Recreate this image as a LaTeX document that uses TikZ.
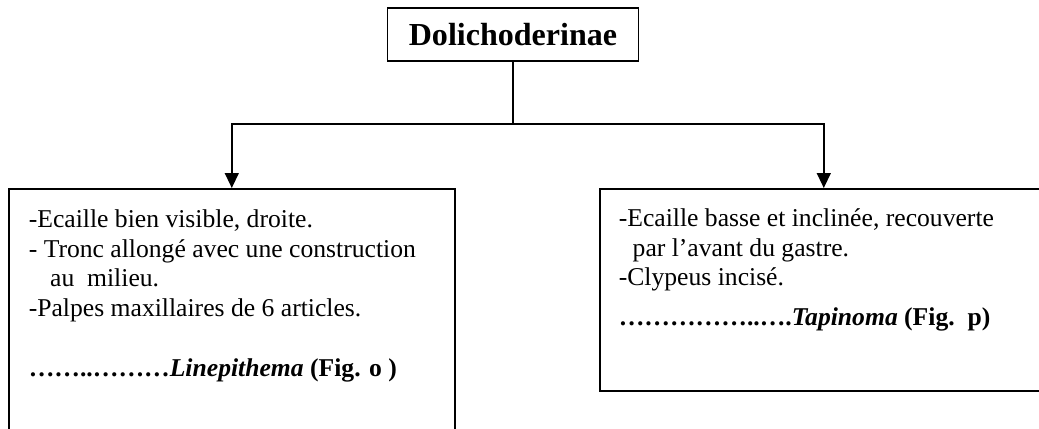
\documentclass[tikz,border=0pt]{standalone}
\usepackage{fontspec}
\setmainfont{Liberation Serif}
\usetikzlibrary{arrows.meta}
\newcommand{\pxu}{0.468pt}

\begin{document}
\begin{tikzpicture}[
  x=\pxu, y=-\pxu,
  line width=0.75pt,
  box/.style={draw, rectangle, inner sep=0pt, anchor=north west},
  notes/.style={align=left, inner sep=0pt, anchor=north west,
    font=\fontsize{12}{13.8}\selectfont},
  arrow/.style={-{Triangle[width=6.5pt,length=7pt]}}]
\useasboundingbox[fill=white] (0,0) rectangle (1039,428);
\clip (0,0) rectangle (1039,428);

\node[box, anchor=center, minimum width=251*\pxu, minimum height=53*\pxu,
  font=\fontsize{15}{17}\selectfont\bfseries] (title) at (513,34.5) {Dolichoderinae};

% the two keys
\node[box, minimum width=446*\pxu, minimum height=260*\pxu] (linebox) at (8,188) {};
\node[box, minimum width=448*\pxu, minimum height=202*\pxu] (tapbox) at (599,188) {};

\node[notes] (linetext) at ([shift={(20,21)}]linebox.north west) {%
  -Ecaille bien visible, droite.\\
  - Tronc allongé avec une construction\\
  \hspace*{10pt}au\ \ milieu.\\
  -Palpes maxillaires de 6 articles.\\[14.5pt]
  \textbf{……..………\textit{Linepithema} (Fig. o )}};
\node[notes] (taptext) at ([shift={(19,20)}]tapbox.north west) {%
  -Ecaille basse et inclinée, recouverte\\
  \hspace*{6.5pt}par l’avant du gastre.\\
  -Clypeus incisé.\\[5pt]
  \textbf{……………..….\textit{Tapinoma} (Fig.\ \ p)}};

\coordinate (split) at (513,124);
\draw (title.south) -- (split);
\draw[arrow] (split) -| (linebox.north);
\draw[arrow] (split) -| (tapbox.north);
\end{tikzpicture}
\end{document}
